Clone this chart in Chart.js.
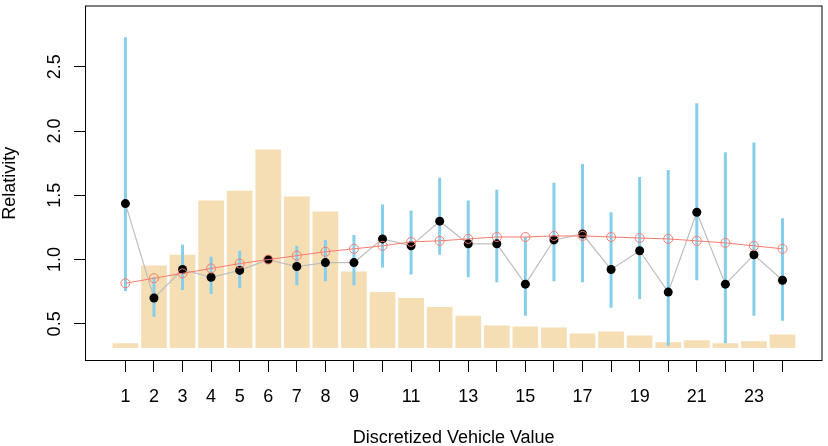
<!DOCTYPE html>
<html>
<head>
<meta charset="utf-8">
<script src="https://cdn.jsdelivr.net/npm/chart.js@4.4.0/dist/chart.umd.min.js"></script>
<style>
html, body { margin: 0; padding: 0; background: #fff; }
</style>
</head>
<body>
<canvas id="mycanvas" width="828" height="446"></canvas>
<script>
// values
var categories = [1,2,3,4,5,6,7,8,9,10,11,12,13,14,15,16,17,18,19,20,21,22,23,24];
var xTickLabels = [1,2,3,4,5,6,7,8,9,11,13,15,17,19,21,23];
var yTicks = [0.5, 1.0, 1.5, 2.0, 2.5];

var barBase = 0.313;
var exposure = [0.349,0.954,1.038,1.459,1.536,1.857,1.490,1.375,0.908,0.747,0.701,0.632,
                0.563,0.487,0.479,0.471,0.426,0.441,0.410,0.357,0.372,0.349,0.364,0.418];
var relativity = [1.436,0.701,0.923,0.862,0.916,1.000,0.946,0.977,0.977,1.161,1.107,1.299,
                  1.123,1.123,0.809,1.153,1.199,0.923,1.069,0.747,1.368,0.809,1.038,0.839];
var fitted = [0.816,0.855,0.893,0.931,0.969,1.000,1.031,1.061,1.084,1.107,1.138,1.146,
              1.161,1.176,1.176,1.184,1.184,1.176,1.168,1.161,1.146,1.130,1.107,1.084];
var ciLow = [0.755,0.556,0.763,0.732,0.778,1.000,0.801,0.832,0.801,0.939,0.885,1.038,
             0.862,0.824,0.563,0.832,0.824,0.625,0.694,0.330,0.839,0.349,0.563,0.525];
var ciHigh = [2.730,0.862,1.115,1.023,1.069,1.000,1.107,1.153,1.191,1.429,1.383,1.636,
              1.459,1.544,1.176,1.597,1.743,1.368,1.643,1.697,2.217,1.835,1.911,1.322];

var FONT = '18px "Liberation Sans", Arial, sans-serif';
var red = '#F87A6E';

// box, tick labels and axis titles, R style
var rPlot = {
	id: 'rPlot',
	afterDraw: function(chart) {
		var ctx = chart.ctx;
		var a = chart.chartArea;
		var xs = chart.scales.x, ys = chart.scales.y;
		ctx.save();
		ctx.strokeStyle = '#000';
		ctx.lineWidth = 1;
		ctx.strokeRect(a.left + 0.5, a.top + 0.5, a.right - a.left - 1, a.bottom - a.top - 1);
		ctx.fillStyle = '#000';
		ctx.font = FONT;
		ctx.textAlign = 'center';
		ctx.textBaseline = 'alphabetic';
		xTickLabels.forEach(function(v) {
			ctx.fillText(String(v), xs.getPixelForValue(v), 401.5);
		});
		yTicks.forEach(function(v) {
			ctx.save();
			ctx.translate(59.5, ys.getPixelForValue(v));
			ctx.rotate(-Math.PI / 2);
			ctx.fillText(v.toFixed(1), 0, 0);
			ctx.restore();
		});
		ctx.fillText('Discretized Vehicle Value', (a.left + a.right) / 2, 443);
		ctx.translate(15, (a.top + a.bottom) / 2);
		ctx.rotate(-Math.PI / 2);
		ctx.fillText('Relativity', 0, 0);
		ctx.restore();
	}
};

var barData = [], ciData = [], relData = [], fitData = [];
for (var i in categories) {
	barData.push({x: categories[i], y: [barBase, exposure[i]]});
	ciData.push({x: categories[i], y: [ciLow[i], ciHigh[i]]});
	relData.push({x: categories[i], y: relativity[i]});
	fitData.push({x: categories[i], y: fitted[i]});
}

var ctx = document.getElementById('mycanvas');
var chart = new Chart(ctx, {
	type: 'bar',
	data: {
		datasets: [
		{
			type: 'line',
			data: fitData,
			borderColor: red,
			borderWidth: 1,
			pointRadius: 4.5,
			pointBackgroundColor: 'rgba(0,0,0,0)',
			pointBorderColor: red,
			pointBorderWidth: 1,
			tension: 0,
			order: 1
		},
		{
			type: 'line',
			data: relData,
			borderColor: '#BEBEBE',
			borderWidth: 1.2,
			pointRadius: 4.5,
			pointBackgroundColor: '#000',
			pointBorderColor: '#000',
			pointBorderWidth: 0,
			tension: 0,
			order: 2
		},
		{
			type: 'bar',
			data: ciData,
			backgroundColor: '#87CEEB',
			grouped: false,
			maxBarThickness: 3,
			order: 3
		},
		{
			type: 'bar',
			data: barData,
			backgroundColor: '#F5DEB3',
			grouped: false,
			barPercentage: 0.9,
			categoryPercentage: 1.0,
			order: 4
		}
		]
	},
	options: {
		responsive: false,
		animation: false,
		devicePixelRatio: 1,
		layout: { padding: 0 },
		plugins: { legend: { display: false }, tooltip: { enabled: false } },
		scales: {
			x: {
				type: 'linear',
				min: -0.414,
				max: 25.4,
				offset: false,
				afterBuildTicks: function(s) { s.ticks = categories.map(function(v) { return {value: v}; }); },
				afterFit: function(s) { s.height = 85; },
				ticks: { display: false },
				grid: { offset: false, drawOnChartArea: false, drawTicks: true, tickLength: 11, color: '#000', tickColor: '#000', lineWidth: 1 },
				border: { display: false }
			},
			y: {
				type: 'linear',
				min: 0.2111,
				max: 2.977,
				stacked: false,
				afterBuildTicks: function(s) { s.ticks = yTicks.map(function(v) { return {value: v}; }); },
				afterFit: function(s) { s.width = 85; },
				ticks: { display: false },
				grid: { drawOnChartArea: false, drawTicks: true, tickLength: 11, color: '#000', tickColor: '#000', lineWidth: 1 },
				border: { display: false }
			}
		}
	},
	plugins: [rPlot]
});
</script>
</body>
</html>
